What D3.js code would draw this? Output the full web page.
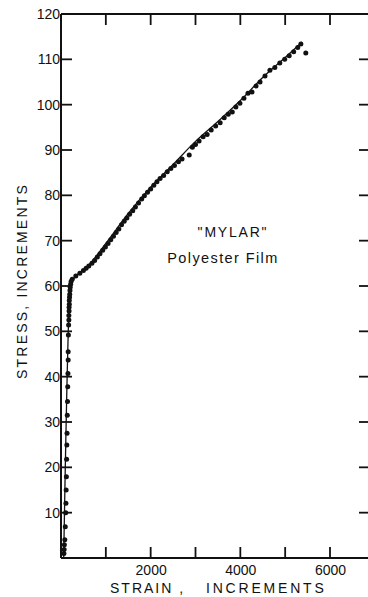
<!DOCTYPE html>
<html>
<head>
<meta charset="utf-8">
<script src="https://cdnjs.cloudflare.com/ajax/libs/d3/7.8.5/d3.min.js"></script>
<style>
  body { margin: 0; background: #fff; }
  svg { display: block; }
  text { font-family: "Liberation Sans", Arial, sans-serif; fill: #111; }
</style>
</head>
<body>
<svg id="chart" width="368" height="597"></svg>
<script>
// ticks
const yTicks = [10, 20, 30, 40, 50, 60, 70, 80, 90, 100, 110, 120];
const xTicks = [1000, 2000, 3000, 4000, 5000, 6000];
const xLabelled = [2000, 4000, 6000];

// measured points (strain, stress), elastic part
const lowStrain = [65, 70, 75, 85, 95, 105, 110, 115, 120, 125, 130, 135, 140, 145, 150, 155, 160, 160, 165, 170,
                   175, 175, 180, 180, 185, 185, 190, 195, 200, 205, 215, 225];
const lowStress = [1.0, 1.9, 2.9, 4.0, 6.9, 10.0, 12.1, 15.0, 17.9, 21.8, 24.9, 27.5, 31.5, 34.5, 37.8, 40.7, 43.7, 45.5, 49.2, 51.4,
                   52.5, 53.5, 54.5, 55.3, 56.0, 56.8, 57.5, 58.2, 59.0, 59.7, 60.4, 61.0];

// measured points, beyond the knee
const highStrain = [250, 330, 420, 500, 560, 620, 690, 750, 810, 870, 930, 990, 1050, 1110, 1170, 1230, 1290, 1350, 1410, 1470,
                    1530, 1600, 1660, 1730, 1800, 1860, 1930, 2000, 2070, 2140, 2210, 2290, 2370, 2450, 2530, 2620, 2700, 2860,
                    2930, 3000, 3080, 3170, 3260, 3350, 3450, 3550, 3640, 3730, 3820, 3900, 3990, 4080, 4170, 4260, 4350, 4440,
                    4550, 4660, 4770, 4880, 4990, 5090, 5190, 5280, 5350, 5460];
const highStress = [61.5, 62.2, 62.8, 63.4, 63.9, 64.4, 65.0, 65.6, 66.4, 67.1, 67.9, 68.6, 69.4, 70.2, 71.0, 71.8, 72.6, 73.5, 74.3, 75.0,
                    75.8, 76.6, 77.4, 78.3, 79.2, 79.9, 80.7, 81.4, 82.2, 83.0, 83.7, 84.4, 85.2, 85.9, 86.6, 87.4, 88.0, 88.9,
                    90.6, 91.2, 92.0, 92.9, 93.4, 94.4, 95.3, 96.0, 97.1, 97.9, 98.4, 99.5, 100.3, 101.4, 102.5, 102.8, 104.1, 105.0,
                    106.3, 107.6, 108.2, 109.2, 110.0, 110.8, 111.7, 112.6, 113.4, 111.4];

// hand-drawn fitted curve
const fitStrain = [60, 200, 240, 320, 600, 1000, 1500, 2000, 2500, 3000, 3500, 4000, 4500, 5000, 5380];
const fitStress = [0, 59, 61, 62, 64.4, 69.4, 76.0, 81.8, 86.8, 91.9, 96.3, 100.9, 106.0, 110.4, 113.8];

const svg = d3.select('#chart');

const x = d3.scaleLinear().domain([0, 6000]).range([61, 330]);
const y = d3.scaleLinear().domain([0, 120]).range([558, 14]);

const ink = '#111';
const font = '"Liberation Sans", Arial, sans-serif';
const tickLen = 11;

// fitted curve
const fitLine = d3.line().x(d => x(d[0])).y(d => y(d[1])).curve(d3.curveMonotoneX);
svg.append('path')
    .datum(d3.zip(fitStrain, fitStress))
    .attr('d', fitLine)
    .attr('fill', 'none')
    .attr('stroke', ink)
    .attr('stroke-width', 1.3);

// points
const pts = d3.zip(lowStrain, lowStress).concat(d3.zip(highStrain, highStress));
svg.append('g').selectAll('circle')
    .data(pts)
    .enter().append('circle')
    .attr('cx', d => x(d[0]))
    .attr('cy', d => y(d[1]))
    .attr('r', 2.5)
    .attr('fill', ink);

// axis labels come from d3 axes; tick marks drawn separately (inward)
svg.append('g')
    .attr('class', 'axis axis--y')
    .attr('transform', 'translate(' + x(0) + ',0)')
    .call(d3.axisLeft(y).tickValues(yTicks).tickSize(0).tickPadding(1));

svg.append('g')
    .attr('class', 'axis axis--x')
    .attr('transform', 'translate(0,' + y(0) + ')')
    .call(d3.axisBottom(x).tickValues(xLabelled).tickSize(0).tickPadding(7).tickFormat(d3.format('d')));

svg.selectAll('.axis .domain').remove();
svg.selectAll('.axis text')
    .attr('font-size', 14)
    .attr('font-family', font)
    .attr('fill', ink);

// frame lines
const frame = svg.append('g').attr('stroke', ink).attr('stroke-width', 2);
frame.append('line').attr('x1', x(0)).attr('x2', x(0)).attr('y1', y(120)).attr('y2', y(0));
frame.append('line').attr('x1', x(0)).attr('x2', 368).attr('y1', y(0)).attr('y2', y(0));
frame.append('line').attr('x1', x(0)).attr('x2', 368).attr('y1', y(120)).attr('y2', y(120));

// tick marks
const ticks = svg.append('g').attr('stroke', ink).attr('stroke-width', 1.8);
ticks.selectAll('.tl').data(yTicks.slice(0, 11)).enter().append('line')
    .attr('x1', x(0)).attr('x2', x(0) + tickLen)
    .attr('y1', d => y(d)).attr('y2', d => y(d));
ticks.selectAll('.tr').data(yTicks.slice(0, 11)).enter().append('line')
    .attr('x1', 359).attr('x2', 368)
    .attr('y1', d => y(d)).attr('y2', d => y(d));
ticks.selectAll('.tb').data(xTicks).enter().append('line')
    .attr('x1', d => x(d)).attr('x2', d => x(d))
    .attr('y1', y(0)).attr('y2', y(0) - tickLen);
ticks.selectAll('.tt').data(xTicks).enter().append('line')
    .attr('x1', d => x(d)).attr('x2', d => x(d))
    .attr('y1', y(120)).attr('y2', y(120) + tickLen);

// axis titles and annotation
function label(txt, px, py, opts) {
    const t = svg.append('text')
        .attr('x', px).attr('y', py)
        .attr('font-size', opts.size || 14)
        .attr('letter-spacing', opts.spacing || 0)
        .attr('text-anchor', opts.anchor || 'start')
        .text(txt);
    if (opts.rotate) t.attr('transform', 'rotate(-90,' + px + ',' + py + ')');
    return t;
}

label('STRESS, INCREMENTS', 27, 281, { anchor: 'middle', spacing: 2.2, rotate: true });
label('STRAIN ,', 110, 593, { spacing: 2 });
label('INCREMENTS', 206, 593, { spacing: 2.8 });
label('"MYLAR"', 233, 237, { anchor: 'middle', spacing: 1.8 });
label('Polyester Film', 223, 263, { anchor: 'middle', spacing: 1.4, size: 14.5 });
</script>
</body>
</html>
